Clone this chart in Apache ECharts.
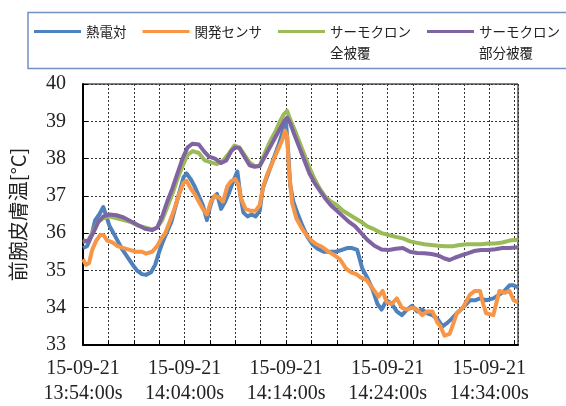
<!DOCTYPE html>
<html>
<head>
<meta charset="utf-8">
<script src="https://cdn.jsdelivr.net/npm/echarts@6/dist/echarts.min.js"></script>
<style>
  html, body { margin: 0; padding: 0; background: #fff; }
  #chart { width: 566px; height: 406px; }
</style>
</head>
<body>
<div id="chart"></div>
<script>
// Elapsed minutes since 15-09-21 13:54:00 and forearm skin temperature (°C)
const thermoT = [0, 0.4, 0.8, 1.2, 1.6, 2.0, 2.3, 2.6, 3.0, 3.4, 3.9, 4.4, 4.9, 5.3, 5.8, 6.2, 6.7, 7.1, 7.5, 7.9,
  8.3, 8.7, 9.1, 9.5, 9.9, 10.2, 10.6, 11.0, 11.4, 11.8, 12.2, 12.5, 12.8, 13.2, 13.6, 14.0, 14.4, 14.8, 15.2, 15.5,
  15.8, 16.2, 16.6, 17.0, 17.4, 17.7, 18.1, 18.5, 18.9, 19.3, 19.7, 20.0, 20.2, 20.4, 20.7, 21.1, 21.6, 22.1, 22.6, 23.1,
  23.7, 24.3, 24.9, 25.5, 26.0, 26.5, 27.0, 27.5, 28.0, 28.5, 29.0, 29.4, 29.9, 30.4, 30.9, 31.4, 31.9, 32.4, 32.9, 33.4,
  33.9, 34.4, 34.9, 35.4, 35.9, 36.3, 36.8, 37.4, 38.1, 38.6, 39.1, 39.7, 40.4, 41.0, 41.5, 42.0, 42.4, 42.8];
const thermoV = [35.6, 35.65, 35.9, 36.35, 36.5, 36.7, 36.45, 36.2, 36.0, 35.8, 35.55, 35.35, 35.15, 35.0, 34.9, 34.88, 34.95, 35.15, 35.5, 35.8,
  36.05, 36.3, 36.7, 37.1, 37.5, 37.6, 37.45, 37.25, 37.0, 36.75, 36.35, 36.7, 36.95, 37.05, 36.65, 36.85, 37.1, 37.4, 37.65, 37.0,
  36.55, 36.45, 36.5, 36.45, 36.6, 37.2, 37.5, 37.8, 38.1, 38.4, 38.75, 38.95, 38.2, 37.3, 36.85, 36.55, 36.2, 35.9, 35.7, 35.58,
  35.5, 35.5, 35.5, 35.55, 35.6, 35.6, 35.55, 35.05, 34.8, 34.5, 34.1, 33.95, 34.2, 34.1, 33.9, 33.8, 33.95, 34.05, 33.9, 33.95,
  33.85, 33.8, 33.7, 33.5, 33.6, 33.7, 33.85, 34.0, 34.2, 34.2, 34.25, 34.2, 34.25, 34.35, 34.45, 34.6, 34.6, 34.55];

const sensorT = [0, 0.3, 0.6, 0.9, 1.3, 1.7, 2.0, 2.4, 2.9, 3.4, 4.0, 4.6, 5.2, 5.8, 6.2, 6.8, 7.3, 7.7, 8.1, 8.6,
  9.0, 9.4, 9.9, 10.2, 10.6, 11.0, 11.4, 11.8, 12.2, 12.6, 13.0, 13.4, 13.8, 14.2, 14.6, 15.0, 15.3, 15.6, 16.0, 16.5,
  17.0, 17.4, 17.7, 18.1, 18.5, 18.9, 19.3, 19.7, 19.9, 20.1, 20.3, 20.6, 21.0, 21.5, 22.0, 22.5, 23.0, 23.6, 24.2, 24.8,
  25.3, 25.9, 26.4, 26.9, 27.4, 27.9, 28.3, 28.7, 29.1, 29.5, 29.9, 30.4, 30.9, 31.4, 31.9, 32.4, 32.9, 33.4, 33.9, 34.4,
  34.9, 35.2, 35.6, 36.1, 36.5, 36.8, 37.4, 38.1, 38.6, 39.1, 39.4, 39.7, 40.4, 41.0, 41.5, 42.0, 42.4, 42.8];
const sensorV = [35.3, 35.15, 35.2, 35.55, 35.8, 35.95, 35.95, 35.8, 35.75, 35.65, 35.6, 35.55, 35.5, 35.5, 35.45, 35.5, 35.65, 35.85, 36.0, 36.35,
  36.65, 37.0, 37.35, 37.4, 37.2, 37.05, 36.85, 36.65, 36.5, 36.85, 37.0, 36.95, 36.85, 37.25, 37.4, 37.45, 37.3, 36.9, 36.65, 36.6,
  36.6, 36.75, 37.2, 37.55, 37.8, 38.05, 38.3, 38.55, 38.75, 38.6, 37.6, 36.8, 36.4, 36.15, 35.95, 35.8, 35.7, 35.62, 35.5, 35.4,
  35.3, 35.05, 34.95, 34.9, 34.8, 34.75, 34.6, 34.45, 34.3, 34.45, 34.15, 34.1, 34.25, 34.0, 33.95, 34.0, 33.95, 33.8, 33.9, 33.9,
  33.6, 33.5, 33.25, 33.3, 33.6, 33.85, 34.0, 34.35, 34.45, 34.45, 34.1, 33.85, 33.8, 34.45, 34.4, 34.45, 34.2, 34.15];

const fullCoverT = [0, 0.5, 1.0, 1.5, 2.0, 2.6, 3.3, 4.0, 4.7, 5.4, 6.1, 6.8, 7.3, 7.8, 8.3, 8.8, 9.3, 9.8, 10.3, 10.8,
  11.4, 12.0, 12.6, 13.2, 13.8, 14.4, 14.9, 15.4, 15.9, 16.4, 16.9, 17.4, 17.9, 18.4, 18.9, 19.4, 19.8, 20.1, 20.4, 20.8,
  21.3, 21.8, 22.3, 22.8, 23.3, 23.8, 24.4, 25.0, 25.6, 26.2, 26.8, 27.4, 28.0, 28.7, 29.4, 30.1, 30.8, 31.5, 32.2, 32.9,
  33.6, 34.3, 35.0, 35.7, 36.4, 37.1, 37.8, 38.5, 39.2, 39.9, 40.6, 41.3, 42.0, 42.8];
const fullCoverV = [35.75, 35.8, 36.05, 36.3, 36.4, 36.45, 36.4, 36.35, 36.3, 36.2, 36.15, 36.1, 36.15, 36.35, 36.7, 37.05, 37.45, 37.8, 38.1, 38.2,
  38.15, 37.95, 37.9, 37.85, 37.95, 38.15, 38.35, 38.3, 38.1, 37.9, 37.8, 37.8, 38.15, 38.45, 38.7, 39.0, 39.2, 39.28, 39.05, 38.8,
  38.45, 38.1, 37.75, 37.45, 37.2, 37.0, 36.85, 36.75, 36.6, 36.5, 36.4, 36.3, 36.18, 36.1, 36.0, 35.95, 35.9, 35.86, 35.78, 35.74,
  35.7, 35.68, 35.66, 35.65, 35.65, 35.68, 35.7, 35.7, 35.7, 35.72, 35.72, 35.75, 35.8, 35.82];

const partCoverT = [0, 0.5, 1.0, 1.5, 2.0, 2.6, 3.3, 4.0, 4.7, 5.4, 6.1, 6.8, 7.3, 7.8, 8.3, 8.8, 9.3, 9.8, 10.3, 10.8,
  11.4, 11.9, 12.4, 13.0, 13.6, 14.1, 14.6, 15.0, 15.4, 15.9, 16.4, 16.9, 17.4, 17.9, 18.4, 18.9, 19.4, 19.8, 20.1, 20.4,
  20.8, 21.3, 21.8, 22.3, 22.8, 23.3, 23.8, 24.4, 25.0, 25.6, 26.2, 26.8, 27.4, 28.0, 28.7, 29.4, 30.1, 30.8, 31.5, 32.2,
  32.9, 33.6, 34.3, 35.0, 35.6, 36.1, 36.6, 37.2, 37.8, 38.5, 39.2, 39.9, 40.6, 41.3, 42.0, 42.8];
const partCoverV = [35.8, 35.78, 36.0, 36.3, 36.45, 36.5, 36.48, 36.42, 36.32, 36.22, 36.12, 36.08, 36.15, 36.45, 36.85, 37.2, 37.6, 38.0, 38.3, 38.4,
  38.38, 38.2, 38.05, 38.0, 37.88, 37.95, 38.2, 38.3, 38.28, 38.05, 37.82, 37.78, 37.8, 38.05, 38.3, 38.55, 38.8, 39.0, 39.1, 38.95,
  38.65, 38.3, 37.95, 37.6, 37.35, 37.15, 36.95, 36.75, 36.6, 36.45, 36.3, 36.18, 36.0, 35.82, 35.66, 35.56, 35.55, 35.58, 35.6, 35.5,
  35.47, 35.46, 35.44, 35.4, 35.32, 35.28, 35.34, 35.4, 35.45, 35.52, 35.55, 35.55, 35.57, 35.6, 35.6, 35.62];

const seriesNames = ['熱電対', '関発センサ', 'サーモクロン\n全被覆', 'サーモクロン\n部分被覆'];
const seriesColors = ['#4F81BD', '#F79646', '#9BBB59', '#8064A2'];
const seriesTimes = [thermoT, sensorT, fullCoverT, partCoverT];
const seriesValues = [thermoV, sensorV, fullCoverV, partCoverV];

const dateLabel = '15-09-21';
const startSeconds = 13 * 3600 + 54 * 60;   // 13:54:00
const xMaxSeconds = 2570;                    // axis ends at 14:36:50

function pad2(n) { return (n < 10 ? '0' : '') + n; }
function clockLabel(sec) {
  const s = startSeconds + sec;
  return pad2(Math.floor(s / 3600)) + ':' + pad2(Math.floor(s / 60) % 60) + ':' + pad2(s % 60) + 's';
}

const chart = echarts.init(document.getElementById('chart'), null, { renderer: 'canvas' });

const series = seriesNames.map(function (name, i) {
  return {
    name: name,
    type: 'line',
    showSymbol: false,
    symbol: 'none',
    lineStyle: { color: seriesColors[i], width: 4, join: 'round' },
    itemStyle: { color: seriesColors[i] },
    data: seriesTimes[i].map(function (t, j) { return [Math.round(t * 60), seriesValues[i][j]]; }),
    z: 2 + i
  };
});

chart.setOption({
  animation: false,
  backgroundColor: '#fff',
  graphic: [{
    type: 'rect',
    shape: { x: 28, y: 12.5, width: 560, height: 56 },
    style: { fill: 'none', stroke: '#7391c2', lineWidth: 1.5 },
    z: 0
  }],
  legend: {
    left: 34,
    top: 0,
    width: 540,
    padding: 0,
    itemWidth: 47,
    itemHeight: 3,
    itemGap: 16,
    textStyle: { fontFamily: 'Noto Sans CJK JP', fontSize: 13.5, color: '#222', lineHeight: 21 },
    // two-line names get a blank leading line so the first line sits level with the key line
    formatter: function (name) { return name.indexOf('\n') >= 0 ? ' \n' + name : name; },
    data: seriesNames.map(function (name, i) {
      return { name: name, icon: 'rect', itemStyle: { color: seriesColors[i] } };
    })
  },
  grid: {
    left: 82, right: 48, top: 84, bottom: 58,
    show: true, borderColor: '#000', borderWidth: 1, backgroundColor: 'transparent'
  },
  xAxis: {
    type: 'value',
    min: 0,
    max: xMaxSeconds,
    interval: 150,
    axisLine: { show: true, lineStyle: { color: '#000', width: 2 } },
    axisTick: { show: true, inside: true, length: 5, lineStyle: { color: '#000' } },
    splitLine: { show: true, lineStyle: { color: '#333', width: 1, type: [2, 2] } },
    axisLabel: {
      showMaxLabel: false,
      margin: 11,
      fontFamily: 'Liberation Serif',
      fontSize: 20,
      lineHeight: 25,
      color: '#222',
      formatter: function (v) {
        return (v % 600 === 0) ? dateLabel + '\n' + clockLabel(v) : '';
      }
    }
  },
  yAxis: {
    type: 'value',
    min: 33,
    max: 40,
    interval: 1,
    name: '前腕皮膚温[°C]',
    nameLocation: 'middle',
    nameGap: 55,
    nameTextStyle: { fontFamily: 'Noto Sans CJK JP', fontSize: 20, color: '#222' },
    axisLine: { show: true, lineStyle: { color: '#000', width: 2 } },
    axisTick: { show: true, inside: true, length: 5, lineStyle: { color: '#000' } },
    splitLine: { show: true, lineStyle: { color: '#333', width: 1, type: [2, 2] } },
    axisLabel: { margin: 17, fontFamily: 'Liberation Serif', fontSize: 20, color: '#222' }
  },
  series: series
});
</script>
</body>
</html>
